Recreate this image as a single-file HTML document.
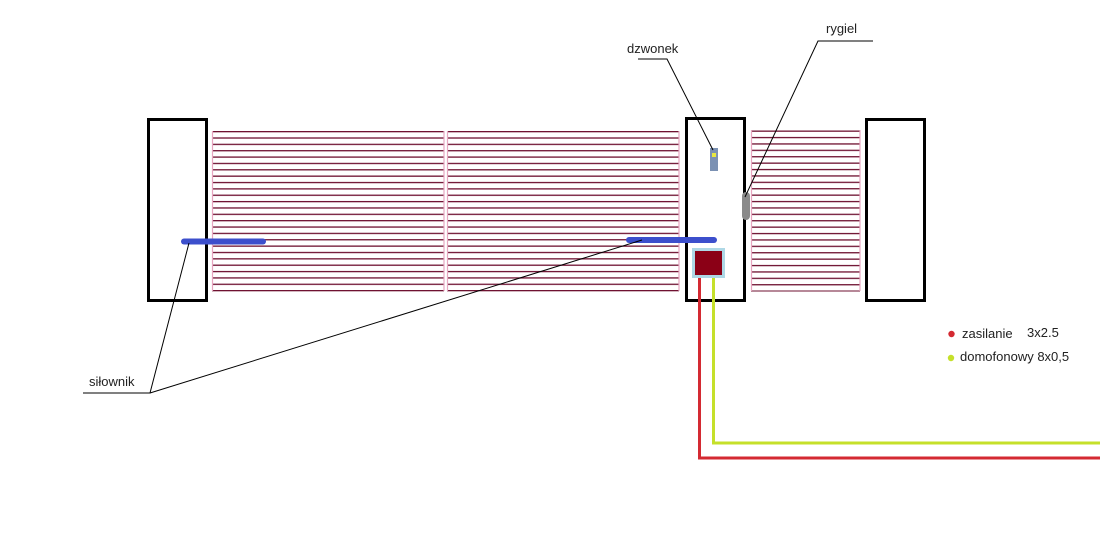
<!DOCTYPE html>
<html><head><meta charset="utf-8"><style>
html,body{margin:0;padding:0;background:#fff;width:1100px;height:555px;overflow:hidden}
svg text{font-family:"Liberation Sans",sans-serif;font-size:13px;fill:#222}
</style></head><body>
<svg width="1100" height="555" viewBox="0 0 1100 555" xmlns="http://www.w3.org/2000/svg">
<defs>
<pattern id="hl" x="0" y="131" width="10" height="6.36" patternUnits="userSpaceOnUse">
<rect x="0" y="0" width="10" height="1.3" fill="#6e1030"/>
</pattern>
<pattern id="hl2" x="0" y="130.5" width="10" height="6.4" patternUnits="userSpaceOnUse">
<rect x="0" y="0" width="10" height="1.3" fill="#6e1030"/>
</pattern>
</defs>
<!-- panels -->
<rect x="212" y="131" width="232" height="160.5" fill="url(#hl)"/>
<rect x="447" y="131" width="232" height="160.5" fill="url(#hl)"/>
<rect x="751" y="130.5" width="109" height="161" fill="url(#hl2)"/>
<g stroke="#e7a6c0" stroke-width="1.2">
<line x1="212.5" y1="131" x2="212.5" y2="291"/><line x1="444" y1="131" x2="444" y2="291"/>
<line x1="447.5" y1="131" x2="447.5" y2="291"/><line x1="679" y1="131" x2="679" y2="291"/>
<line x1="751.5" y1="130" x2="751.5" y2="291"/><line x1="860" y1="130" x2="860" y2="291"/>
</g>
<!-- posts -->
<g fill="#fff" stroke="#000" stroke-width="3">
<rect x="148.5" y="119.5" width="58" height="181"/>
<rect x="686.5" y="118.5" width="58" height="182"/>
<rect x="866.5" y="119.5" width="58" height="181"/>
</g>
<!-- bell -->
<rect x="710" y="148" width="8" height="23" fill="#7b91b3"/>
<rect x="712" y="153" width="4" height="4" fill="#e8e840"/>
<!-- rygiel -->
<rect x="742" y="192" width="8" height="28" rx="4" fill="#8a8a8a"/>
<!-- box -->
<rect x="692" y="248" width="33" height="30" fill="#aed8e6"/>
<rect x="695" y="251" width="27" height="24" fill="#8b0016"/>
<!-- cables -->
<polyline points="699.5,278 699.5,458 1100,458" fill="none" stroke="#d42a32" stroke-width="3"/>
<polyline points="713.5,278 713.5,443 1100,443" fill="none" stroke="#c5e02a" stroke-width="3"/>
<!-- actuators -->
<line x1="184" y1="241.5" x2="263" y2="241.5" stroke="#3c4fcc" stroke-width="6" stroke-linecap="round"/>
<line x1="629" y1="240" x2="714" y2="240" stroke="#3c4fcc" stroke-width="6" stroke-linecap="round"/>
<!-- leaders -->
<g stroke="#000" stroke-width="1" fill="none">
<polyline points="83,393 150,393 189,243"/>
<line x1="150" y1="393" x2="642" y2="240"/>
<polyline points="638,59 667,59 713,150"/>
<polyline points="873,41 818,41 745,197"/>
</g>
<text x="89" y="386">siłownik</text>
<text x="627" y="53">dzwonek</text>
<text x="826" y="33">rygiel</text>
<circle cx="951.5" cy="334" r="3.2" fill="#d42a32"/>
<text x="962" y="338">zasilanie</text>
<text x="1027" y="337">3x2.5</text>
<circle cx="951" cy="358" r="3.2" fill="#c5e02a"/>
<text x="960" y="361">domofonowy 8x0,5</text>
</svg>
</body></html>
